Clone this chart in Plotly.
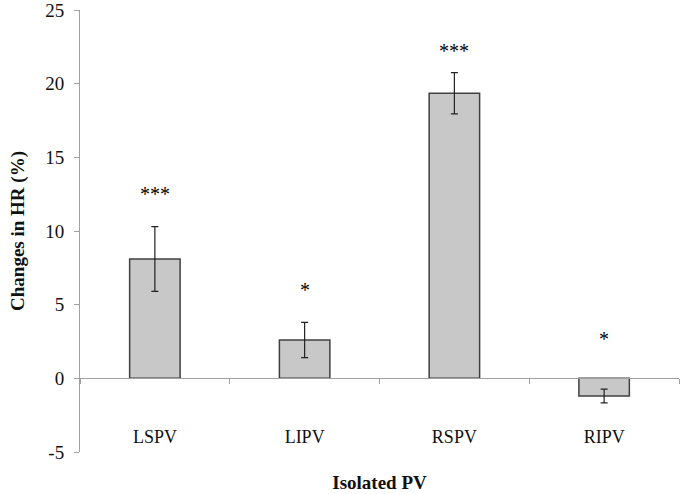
import plotly.graph_objects as go

categories = ["LSPV", "LIPV", "RSPV", "RIPV"]
hr_change = [8.1, 2.6, 19.35, -1.2]
hr_error = [2.2, 1.2, 1.4, 0.47]
significance = ["***", "*", "***", "*"]
y_ticks = [-5, 0, 5, 10, 15, 20, 25]
y_tick_text = ["-5", "0", "5", "10", "15", "20", "25"]

# vertical anchor of each significance label (data units)
label_y = [12.7, 6.2, 22.4, 2.9]

FONT = "Liberation Serif"

fig = go.Figure()
fig.add_trace(go.Bar(
    x=categories,
    y=hr_change,
    width=0.337,
    marker=dict(color="#c8c8c8", line=dict(color="#404040", width=1.5)),
    error_y=dict(type="data", array=hr_error, visible=True,
                 color="#222222", thickness=1.2, width=3.5),
    showlegend=False,
))

for cat, s, yy in zip(categories, significance, label_y):
    fig.add_annotation(x=cat, y=yy, text=s, showarrow=False,
                       xref="x", yref="y", yanchor="middle", yshift=-3,
                       font=dict(family=FONT, size=20, color="#000000"))

fig.update_layout(
    width=685, height=494,
    margin=dict(l=80, r=6, t=10, b=42, autoexpand=False),
    paper_bgcolor="white", plot_bgcolor="white",
    font=dict(family=FONT, color="#111111"),
    bargap=0.66,
)
fig.update_yaxes(
    range=[-5, 25], tickmode="array", tickvals=y_ticks, ticktext=y_tick_text,
    showgrid=False, zeroline=False,
    showline=True, linecolor="#a0a0a0", linewidth=1,
    ticks="outside", ticklen=5, tickcolor="#a0a0a0",
    ticklabelstandoff=6,
    ticklabeloverflow="allow",
    tickfont=dict(family=FONT, size=19, color="#111111"),
    title=dict(text="<b>Changes in HR (%)</b>",
               font=dict(family=FONT, size=19, color="#111111"), standoff=15),
    automargin=False,
)
fig.update_xaxes(
    type="category", range=[-0.5, 3.5],
    anchor="free", position=1/6,
    tickson="boundaries",
    showgrid=False, zeroline=False,
    showline=True, linecolor="#a0a0a0", linewidth=1,
    ticks="outside", ticklen=5, tickcolor="#a0a0a0",
    ticklabelstandoff=42,
    ticklabeloverflow="allow",
    tickfont=dict(family=FONT, size=18, color="#111111"),
    title=dict(text="<b>Isolated PV</b>",
               font=dict(family=FONT, size=19, color="#111111"), standoff=29),
    automargin=False,
)

fig.write_html("out.html", config={"displayModeBar": False},
               post_script="document.body.style.margin='0';")
